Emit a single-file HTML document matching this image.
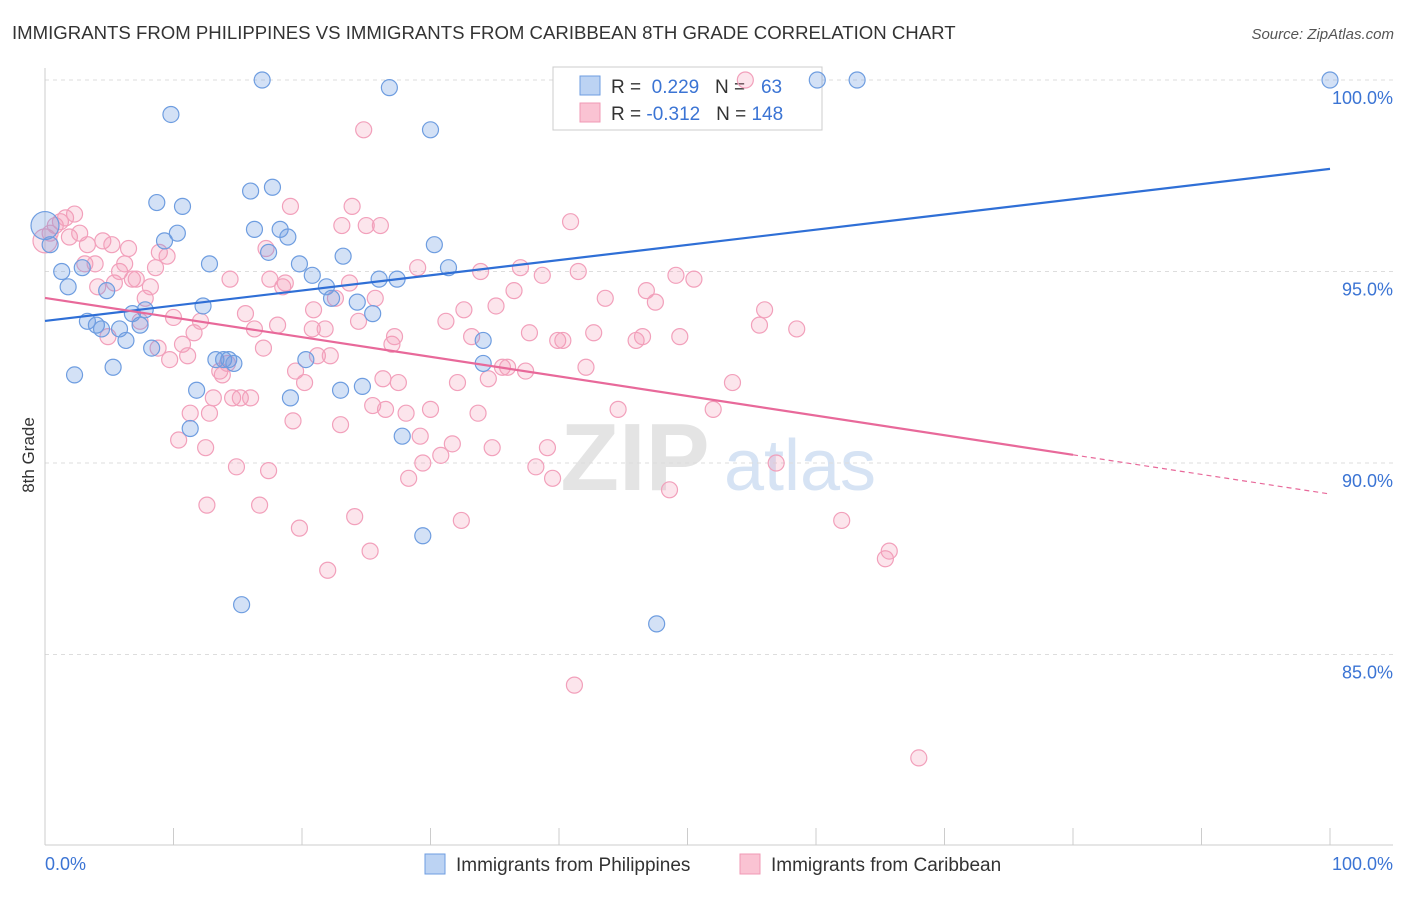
<!DOCTYPE html>
<html><head><meta charset="utf-8">
<style>
body{margin:0;background:#fff;font-family:"Liberation Sans",sans-serif;}
svg text{font-family:"Liberation Sans",sans-serif;}
</style></head>
<body>
<svg id="chart" width="1406" height="892" viewBox="0 0 1406 892">
<text x="12" y="39" font-size="18.6" fill="#333">IMMIGRANTS FROM PHILIPPINES VS IMMIGRANTS FROM CARIBBEAN 8TH GRADE CORRELATION CHART</text>
<text x="1394" y="39" font-size="15" fill="#555" text-anchor="end" font-style="italic">Source: ZipAtlas.com</text>
<text x="34" y="455" font-size="17" fill="#333" text-anchor="middle" transform="rotate(-90 34 455)">8th Grade</text>
<g>
<text x="635" y="490" font-size="96" fill="#e4e4e4" text-anchor="middle" font-family="Liberation Serif" font-weight="bold">ZIP</text>
<text x="800" y="490" font-size="72" fill="#d6e3f4" text-anchor="middle">atlas</text>
</g>
<g id="grid"></g>
<g id="axes"></g>
<g>
<rect x="553" y="67" width="269" height="63" fill="#fff" stroke="#ccc"/>
<rect x="580" y="76" width="20" height="19" fill="#bcd3f3" stroke="#6e9de0"/>
<rect x="580" y="103" width="20" height="19" fill="#fac3d3" stroke="#f09ab5"/>
<text x="611" y="93" font-size="19" fill="#333">R = <tspan fill="#3b74d4">&#160;0.229</tspan>&#160;&#160;&#160;N = <tspan fill="#3b74d4">&#160;&#160;63</tspan></text>
<text x="611" y="120" font-size="19" fill="#333">R = <tspan fill="#3b74d4">-0.312</tspan>&#160;&#160;&#160;N = <tspan fill="#3b74d4">148</tspan></text>
</g>
<g id="pinkpts"></g>
<g id="bluepts"></g>
<g id="trends"></g>
<g>
<rect x="425" y="854" width="20" height="20" fill="#bcd3f3" stroke="#6e9de0"/>
<text x="456" y="871" font-size="19" fill="#333">Immigrants from Philippines</text>
<rect x="740" y="854" width="20" height="20" fill="#fac3d3" stroke="#f09ab5"/>
<text x="771" y="871" font-size="19" fill="#333">Immigrants from Caribbean</text>
</g>
</svg>
<script>
const yTicks=[100,95,90,85];
const yTickLabels=["100.0%","95.0%","90.0%","85.0%"];
const xTicks=[0,10,20,30,40,50,60,70,80,90,100];
const xEndLabels=["0.0%","100.0%"];
const blueX=[0,0.4,1.3,1.8,2.9,2.3,3.3,4.0,4.4,4.8,5.3,5.8,6.3,6.8,7.4,7.8,8.3,8.7,9.3,9.8,10.3,10.7,11.3,11.8,12.3,12.8,13.3,13.9,14.3,14.7,15.3,16.0,16.3,16.9,17.4,17.7,18.3,18.9,19.1,19.8,20.3,20.8,21.9,22.3,23.0,23.2,24.3,24.7,25.5,26.0,26.8,27.4,27.8,29.4,30.0,30.3,31.4,34.1,34.1,47.6,60.1,63.2,100];
const blueY=[96.2,95.7,95.0,94.6,95.1,92.3,93.7,93.6,93.5,94.5,92.5,93.5,93.2,93.9,93.6,94.0,93.0,96.8,95.8,99.1,96.0,96.7,90.9,91.9,94.1,95.2,92.7,92.7,92.7,92.6,86.3,97.1,96.1,100.0,95.5,97.2,96.1,95.9,91.7,95.2,92.7,94.9,94.6,94.3,91.9,95.4,94.2,92.0,93.9,94.8,99.8,94.8,90.7,88.1,98.7,95.7,95.1,93.2,92.6,85.8,100.0,100.0,100.0];
const pinkX=[0,0.4,0.8,1.2,1.6,1.9,2.3,2.7,3.1,3.3,3.9,4.1,4.5,4.9,5.2,5.4,5.8,6.2,6.5,6.8,7.1,7.4,7.8,8.2,8.6,8.8,8.9,9.5,9.7,10.0,10.4,10.7,11.1,11.3,11.6,12.1,12.5,12.6,12.8,13.1,13.6,13.8,14.2,14.6,14.4,14.9,15.2,15.6,16.0,16.3,16.7,17.0,17.2,17.4,17.5,18.1,18.5,18.7,19.1,19.3,19.5,19.8,20.2,20.8,20.9,21.2,21.8,22.0,22.2,22.6,23.0,23.1,23.7,23.9,24.1,24.4,24.8,25.0,25.3,25.5,25.7,26.1,26.3,26.5,27.0,27.2,27.5,28.1,28.3,29.0,29.2,29.4,30.0,30.8,31.2,31.7,32.1,32.4,32.6,33.2,33.7,33.9,34.5,34.8,35.1,35.6,36.0,36.5,37.0,37.4,37.7,38.2,38.7,39.1,39.5,39.9,40.3,40.9,41.2,41.5,42.1,42.7,43.6,44.6,46.0,46.5,46.8,47.5,48.6,49.1,49.4,50.5,52.0,53.5,54.5,55.6,56.0,56.9,58.5,62.0,65.4,65.7,68.0];
const pinkY=[95.8,96.0,96.2,96.3,96.4,95.9,96.5,96.0,95.2,95.7,95.2,94.6,95.8,93.3,95.7,94.7,95.0,95.2,95.6,94.8,94.8,93.7,94.3,94.6,95.1,93.0,95.5,95.4,92.7,93.8,90.6,93.1,92.8,91.3,93.4,93.7,90.4,88.9,91.3,91.7,92.4,92.3,92.6,91.7,94.8,89.9,91.7,93.9,91.7,93.5,88.9,93.0,95.6,89.8,94.8,93.6,94.6,94.7,96.7,91.1,92.4,88.3,92.1,93.5,94.0,92.8,93.5,87.2,92.8,94.3,91.0,96.2,94.7,96.7,88.6,93.7,98.7,96.2,87.7,91.5,94.3,96.2,92.2,91.4,93.1,93.3,92.1,91.3,89.6,95.1,90.7,90.0,91.4,90.2,93.7,90.5,92.1,88.5,94.0,93.3,91.3,95.0,92.2,90.4,94.1,92.5,92.5,94.5,95.1,92.4,93.4,89.9,94.9,90.4,89.6,93.2,93.2,96.3,84.2,95.0,92.5,93.4,94.3,91.4,93.2,93.3,94.5,94.2,89.3,94.9,93.3,94.8,91.4,92.1,100.0,93.6,94.0,90.0,93.5,88.5,87.5,87.7,82.3];
const blueTrend=[93.71,97.68];
const pinkTrend=[94.31,89.19];
const pinkSolidEnd=80;

const NS="http://www.w3.org/2000/svg";
const X0=45,X1=1330,YTOP=80,PXPER=38.3;
const sx=v=>X0+(X1-X0)*v/100;
const sy=v=>YTOP+(100-v)*PXPER;
function mk(tag,attrs,parent){const e=document.createElementNS(NS,tag);for(const k in attrs)e.setAttribute(k,attrs[k]);parent.appendChild(e);return e;}
const grid=document.getElementById('grid'),axes=document.getElementById('axes');
yTicks.forEach((t,i)=>{
  const l=mk('line',{x1:X0,x2:1393,y1:sy(t),y2:sy(t),stroke:'#ddd','stroke-dasharray':'4,4'},grid);
  
  
  const tx=mk('text',{x:1393,y:sy(t)+24,'font-size':18,fill:'#3b74d4','text-anchor':'end'},axes);
  tx.textContent=yTickLabels[i];
  
  
});
mk('line',{x1:X0,x2:X0,y1:68,y2:845,stroke:'#ccc'},axes);
mk('line',{x1:X0,x2:1393,y1:845,y2:845,stroke:'#ccc'},axes);
xTicks.forEach(t=>{
  const l=mk('line',{x1:sx(t),x2:sx(t),y1:828,y2:845,stroke:'#ccc'},axes);
  
  
});
const xl0=mk('text',{x:45,y:870,'font-size':18,fill:'#3b74d4'},axes);xl0.textContent=xEndLabels[0];


const xl1=mk('text',{x:1393,y:870,'font-size':18,fill:'#3b74d4','text-anchor':'end'},axes);xl1.textContent=xEndLabels[1];



const pg=document.getElementById('pinkpts');
pinkX.forEach((x,i)=>{
  const c=mk('circle',{cx:sx(x),cy:sy(pinkY[i]),r:i===0?12:8,fill:'rgba(244,150,180,0.25)',stroke:'#f2a0bb','stroke-width':1.2},pg);
  
  
});
const bg=document.getElementById('bluepts');
blueX.forEach((x,i)=>{
  const c=mk('circle',{cx:sx(x),cy:sy(blueY[i]),r:i===0?14:8,fill:'rgba(110,157,224,0.3)',stroke:'#6e9de0','stroke-width':1.2},bg);
  
  
});
const tg=document.getElementById('trends');
const bl=mk('line',{x1:sx(0),y1:sy(blueTrend[0]),x2:sx(100),y2:sy(blueTrend[1]),stroke:'#2f6fd6','stroke-width':2.2},tg);


const pm=pinkTrend[0]+(pinkTrend[1]-pinkTrend[0])*pinkSolidEnd/100;
const pl=mk('line',{x1:sx(0),y1:sy(pinkTrend[0]),x2:sx(pinkSolidEnd),y2:sy(pm),stroke:'#e8699a','stroke-width':2.2},tg);


const pd=mk('line',{x1:sx(pinkSolidEnd),y1:sy(pm),x2:sx(100),y2:sy(pinkTrend[1]),stroke:'#e8699a','stroke-width':1.2,'stroke-dasharray':'5,4'},tg);


</script>
</body></html>
